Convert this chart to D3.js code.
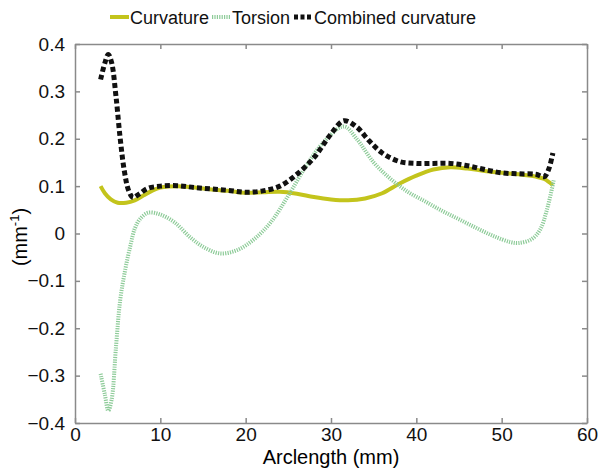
<!DOCTYPE html>
<html>
<head>
<meta charset="utf-8">
<script src="https://cdn.jsdelivr.net/npm/d3@7"></script>
<style>
  body { margin: 0; background: #fff; }
  text { font-family: "Liberation Sans", Arial, sans-serif; }
</style>
</head>
<body>
<svg id="chart"></svg>
<script>
// data: [arclength mm, value mm^-1]
var curvature = [[3,0.10],[3.5,0.085],[4.2,0.072],[5,0.065],[6,0.065],[7,0.07],[8,0.08],[9,0.09],[10,0.097],
  [12,0.1],[14,0.097],[16,0.093],[18,0.09],[20,0.086],[22,0.087],[24,0.088],[26,0.084],[28,0.077],[30,0.072],
  [32,0.07],[34,0.074],[36,0.085],[38,0.105],[40,0.122],[42,0.135],[44,0.14],[46,0.137],[48,0.132],[50,0.128],
  [52,0.125],[54,0.12],[55,0.115],[56,0.102]];
var torsion = [[3,-0.296],[3.5,-0.34],[3.9,-0.374],[4.3,-0.35],[4.8,-0.24],[5.3,-0.14],[5.9,-0.075],[6.5,-0.025],
  [7,0.01],[7.6,0.03],[8.6,0.044],[10,0.04],[11.7,0.023],[13.5,-0.008],[15,-0.028],[17,-0.042],[19,-0.035],
  [21,-0.012],[23,0.025],[25,0.08],[27,0.14],[29,0.19],[31.5,0.226],[33,0.2],[35,0.15],[37,0.115],[39,0.088],
  [41,0.068],[43,0.048],[45,0.03],[47,0.012],[49,-0.005],[51,-0.018],[52,-0.02],[53.5,-0.012],[54.5,0.008],
  [55.3,0.05],[56.1,0.112]];
var combined = [[3,0.325],[3.5,0.36],[3.9,0.378],[4.3,0.36],[4.8,0.29],[5.3,0.2],[5.8,0.13],[6.3,0.09],
  [6.8,0.076],[7.5,0.083],[8.5,0.095],[10,0.1],[12,0.101],[14,0.097],[16,0.094],[18,0.091],[20,0.087],[22,0.09],
  [24,0.1],[26,0.125],[28,0.16],[30,0.21],[31.5,0.238],[33,0.225],[34.5,0.195],[36,0.17],[38,0.152],[40,0.148],
  [42,0.148],[44,0.148],[46,0.143],[48,0.135],[50,0.128],[52,0.126],[54,0.125],[55,0.12],[55.5,0.135],[56,0.17]];
var xTicks = [0, 10, 20, 30, 40, 50, 60];
var yTicks = [-0.4, -0.3, -0.2, -0.1, 0, 0.1, 0.2, 0.3, 0.4];
var seriesNames = ["Curvature", "Torsion", "Combined curvature"];

var width = 599, height = 468;
var m = { left: 75, right: 587, top: 44, bottom: 423 };

var svg = d3.select("#chart").attr("width", width).attr("height", height);

var x = d3.scaleLinear().domain([0, 60]).range([m.left, m.right]);
var y = d3.scaleLinear().domain([-0.4, 0.4]).range([m.bottom, m.top]);

var axisColor = "#8a8a8a";

// axes box with inward ticks
var tickFmt = function(d) { return d3.format("")(+d.toFixed(1)); };
svg.append("g").attr("transform", "translate(0," + m.bottom + ")")
  .call(d3.axisBottom(x).tickValues(xTicks).tickSizeInner(-5).tickSizeOuter(0).tickPadding(5));
svg.append("g").attr("transform", "translate(0," + m.top + ")")
  .call(d3.axisTop(x).tickValues(xTicks).tickSizeInner(-5).tickSizeOuter(0).tickFormat(""));
svg.append("g").attr("transform", "translate(" + m.left + ",0)")
  .call(d3.axisLeft(y).tickValues(yTicks).tickSizeInner(-5).tickSizeOuter(0).tickPadding(10).tickFormat(tickFmt));
svg.append("g").attr("transform", "translate(" + m.right + ",0)")
  .call(d3.axisRight(y).tickValues(yTicks).tickSizeInner(-5).tickSizeOuter(0).tickFormat(""));

svg.selectAll(".domain, .tick line").attr("stroke", axisColor).attr("stroke-width", 1.5);
svg.selectAll(".tick text").attr("fill", "#111").style("font-size", "19px")
  .style("font-family", "'Liberation Sans', Arial, sans-serif");

var line = d3.line()
  .x(function(d) { return x(d[0]); })
  .y(function(d) { return y(d[1]); })
  .curve(d3.curveCatmullRom.alpha(0.5));

var styles = [
  { data: curvature, color: "#c3c41c", width: 4, dash: null },
  { data: torsion, color: "#8dcb98", width: 4, dash: "1.2,1.2" },
  { data: combined, color: "#111", width: 5, dash: "5,3" }
];

styles.forEach(function(s) {
  svg.append("path")
    .datum(s.data)
    .attr("d", line)
    .attr("fill", "none")
    .attr("stroke", s.color)
    .attr("stroke-width", s.width)
    .attr("stroke-dasharray", s.dash);
});

// legend
var legendX = [110, 212, 294];
var legend = svg.append("g");
styles.forEach(function(s, i) {
  legend.append("line")
    .attr("x1", legendX[i]).attr("x2", legendX[i] + 19)
    .attr("y1", 17).attr("y2", 17)
    .attr("stroke", s.color).attr("stroke-width", s.width)
    .attr("stroke-dasharray", s.dash ? (i == 2 ? "4,2.5" : s.dash) : null);
  legend.append("text")
    .attr("x", legendX[i] + 20).attr("y", 24)
    .style("font-size", "18px")
    .attr("fill", "#111")
    .text(seriesNames[i]);
});

// axis labels
svg.append("text")
  .attr("x", 331).attr("y", 464)
  .attr("text-anchor", "middle")
  .style("font-size", "20px")
  .text("Arclength (mm)");

var yl = svg.append("text")
  .attr("transform", "translate(27,237) rotate(-90)")
  .attr("text-anchor", "middle")
  .style("font-size", "20px");
yl.append("tspan").text("(mm");
yl.append("tspan").attr("dy", -8).style("font-size", "13px").text("-1");
yl.append("tspan").attr("dy", 8).text(")");
</script>
</body>
</html>
